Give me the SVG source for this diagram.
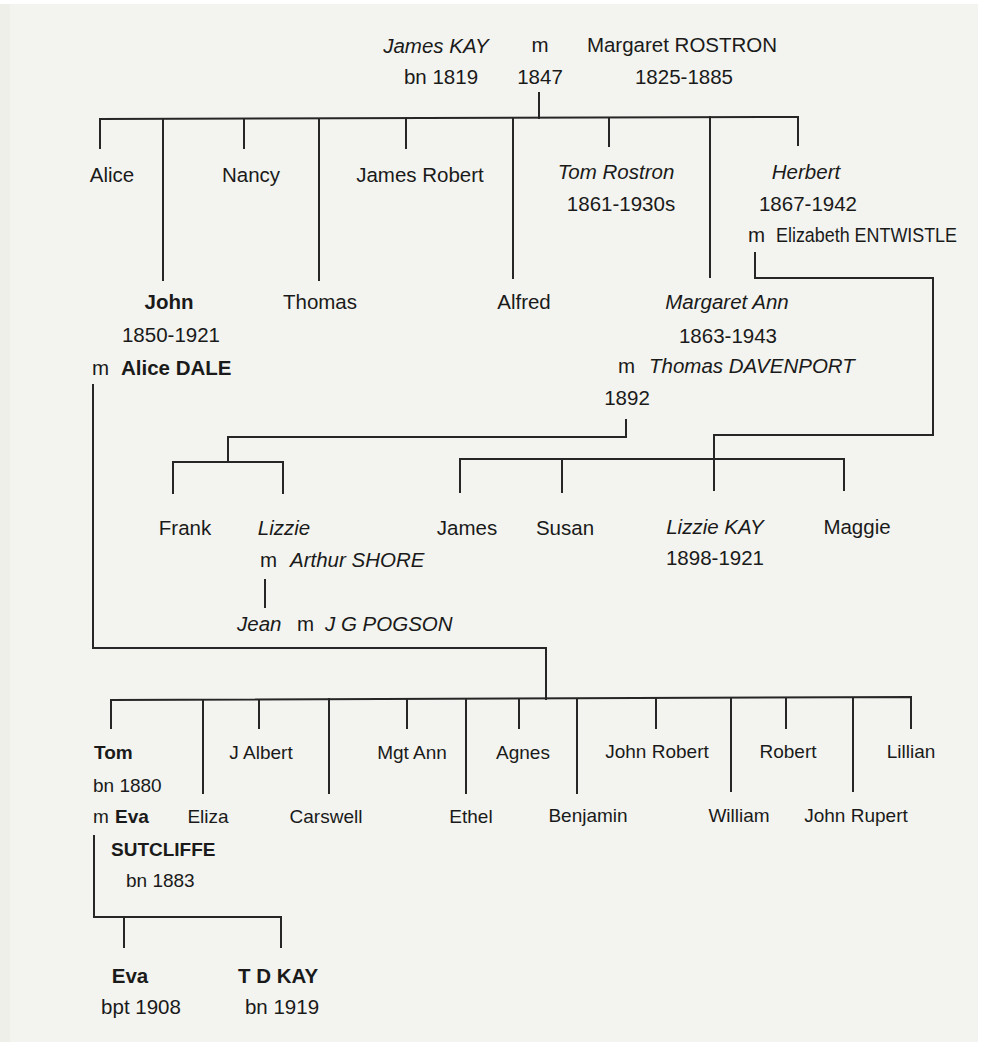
<svg xmlns="http://www.w3.org/2000/svg" width="984" height="1043" viewBox="0 0 984 1043">
<style>
text{font-family:"Liberation Sans",Arial,Helvetica,sans-serif;font-size:20.5px;fill:#1a1a1a}
.c{text-anchor:middle}
.i{font-style:italic}
.b{font-weight:bold}
.s{font-size:19px}
#connectors path{fill:none;stroke:#262626;stroke-width:2;stroke-linecap:square}
</style>
<rect x="0" y="0" width="984" height="1043" fill="#ffffff"/>
<rect x="0" y="4" width="978" height="1038" fill="#f3f4ef"/>
<rect x="0" y="4" width="10" height="1038" fill="#eeefe9"/>
<g id="connectors">
<path d="M539,93 V118"/>
<path d="M100,148 V119 L798,117 V145"/>
<path d="M163,119 V280"/>
<path d="M244,119 V148"/>
<path d="M319,119 V280"/>
<path d="M406,118 V148"/>
<path d="M513,118 V278"/>
<path d="M609,118 V146"/>
<path d="M710,117 V277"/>
<path d="M755,253 V278 H933 V435 H714 V490"/>
<path d="M460,492 V459 H844 V490"/>
<path d="M562,459 V492"/>
<path d="M626,420 V437 H228 V462"/>
<path d="M173,493 V462 H283 V493"/>
<path d="M265,580 V607"/>
<path d="M93,385 V648 H546 V699"/>
<path d="M111,728 V700 L911,697 V728"/>
<path d="M259,700 V728"/>
<path d="M407,699 V728"/>
<path d="M519,699 V728"/>
<path d="M656,698 V728"/>
<path d="M786,698 V728"/>
<path d="M203,700 V793"/>
<path d="M329,699 V793"/>
<path d="M466,699 V793"/>
<path d="M577,699 V793"/>
<path d="M731,698 V791"/>
<path d="M853,698 V791"/>
<path d="M94,836 V917 H281 V947"/>
<path d="M124,917 V947"/>
</g>
<g id="parents">
<text class="c i" x="436" y="53">James KAY</text>
<text class="c" x="540" y="52">m</text>
<text class="c" x="682" y="52">Margaret ROSTRON</text>
<text class="c" x="441" y="84">bn 1819</text>
<text class="c" x="540" y="84">1847</text>
<text class="c" x="684" y="84">1825-1885</text>
</g>
<g id="alice"><text class="c" x="112" y="182">Alice</text></g>
<g id="nancy"><text class="c" x="251" y="182">Nancy</text></g>
<g id="james-robert"><text class="c" x="420" y="182">James Robert</text></g>
<g id="tom-rostron">
<text class="c i" x="616" y="179">Tom Rostron</text>
<text class="c" x="621" y="211">1861-1930s</text>
</g>
<g id="herbert">
<text class="c i" x="806" y="179">Herbert</text>
<text class="c" x="808" y="211">1867-1942</text>
<text x="748" y="242">m</text>
<text x="776" y="242" textLength="181" lengthAdjust="spacingAndGlyphs">Elizabeth ENTWISTLE</text>
</g>
<g id="john">
<text class="c b" x="169" y="309">John</text>
<text class="c" x="171" y="342">1850-1921</text>
<text x="92" y="375">m</text>
<text class="b" x="121" y="375">Alice DALE</text>
</g>
<g id="thomas"><text class="c" x="320" y="309">Thomas</text></g>
<g id="alfred"><text class="c" x="524" y="309">Alfred</text></g>
<g id="margaret-ann">
<text class="c i" x="727" y="309">Margaret Ann</text>
<text class="c" x="728" y="343">1863-1943</text>
<text x="618" y="373">m</text>
<text class="i" x="649" y="373">Thomas DAVENPORT</text>
<text class="c" x="627" y="405">1892</text>
</g>
<g id="frank"><text class="c" x="185" y="535">Frank</text></g>
<g id="lizzie">
<text class="c i" x="284" y="535">Lizzie</text>
<text x="260" y="567">m</text>
<text class="i" x="290" y="567">Arthur SHORE</text>
</g>
<g id="jean">
<text class="i" x="237" y="631">Jean</text>
<text x="297" y="631">m</text>
<text class="i" x="325" y="631">J G POGSON</text>
</g>
<g id="james"><text class="c" x="467" y="535">James</text></g>
<g id="susan"><text class="c" x="565" y="535">Susan</text></g>
<g id="lizzie-kay">
<text class="c i" x="715" y="534">Lizzie KAY</text>
<text class="c" x="715" y="565">1898-1921</text>
</g>
<g id="maggie"><text class="c" x="857" y="534">Maggie</text></g>
<g id="tom">
<text class="b s" x="94" y="759">Tom</text>
<text class="s" x="93" y="792">bn 1880</text>
<text class="s" x="93" y="823">m</text>
<text class="b s" x="115" y="823">Eva</text>
<text class="b s" x="111" y="856">SUTCLIFFE</text>
<text class="s" x="126" y="887">bn 1883</text>
</g>
<g id="j-albert"><text class="c s" x="261" y="759">J Albert</text></g>
<g id="mgt-ann"><text class="c s" x="412" y="759">Mgt Ann</text></g>
<g id="agnes"><text class="c s" x="523" y="759">Agnes</text></g>
<g id="john-robert"><text class="c s" x="657" y="758">John Robert</text></g>
<g id="robert"><text class="c s" x="788" y="758">Robert</text></g>
<g id="lillian"><text class="c s" x="911" y="758">Lillian</text></g>
<g id="eliza"><text class="c s" x="208" y="823">Eliza</text></g>
<g id="carswell"><text class="c s" x="326" y="823">Carswell</text></g>
<g id="ethel"><text class="c s" x="471" y="823">Ethel</text></g>
<g id="benjamin"><text class="c s" x="588" y="822">Benjamin</text></g>
<g id="william"><text class="c s" x="739" y="822">William</text></g>
<g id="john-rupert"><text class="c s" x="856" y="822">John Rupert</text></g>
<g id="eva">
<text class="c b" x="130" y="983">Eva</text>
<text class="c" x="141" y="1014">bpt 1908</text>
</g>
<g id="td-kay">
<text class="c b" x="278" y="983">T D KAY</text>
<text class="c" x="282" y="1014">bn 1919</text>
</g>
</svg>
